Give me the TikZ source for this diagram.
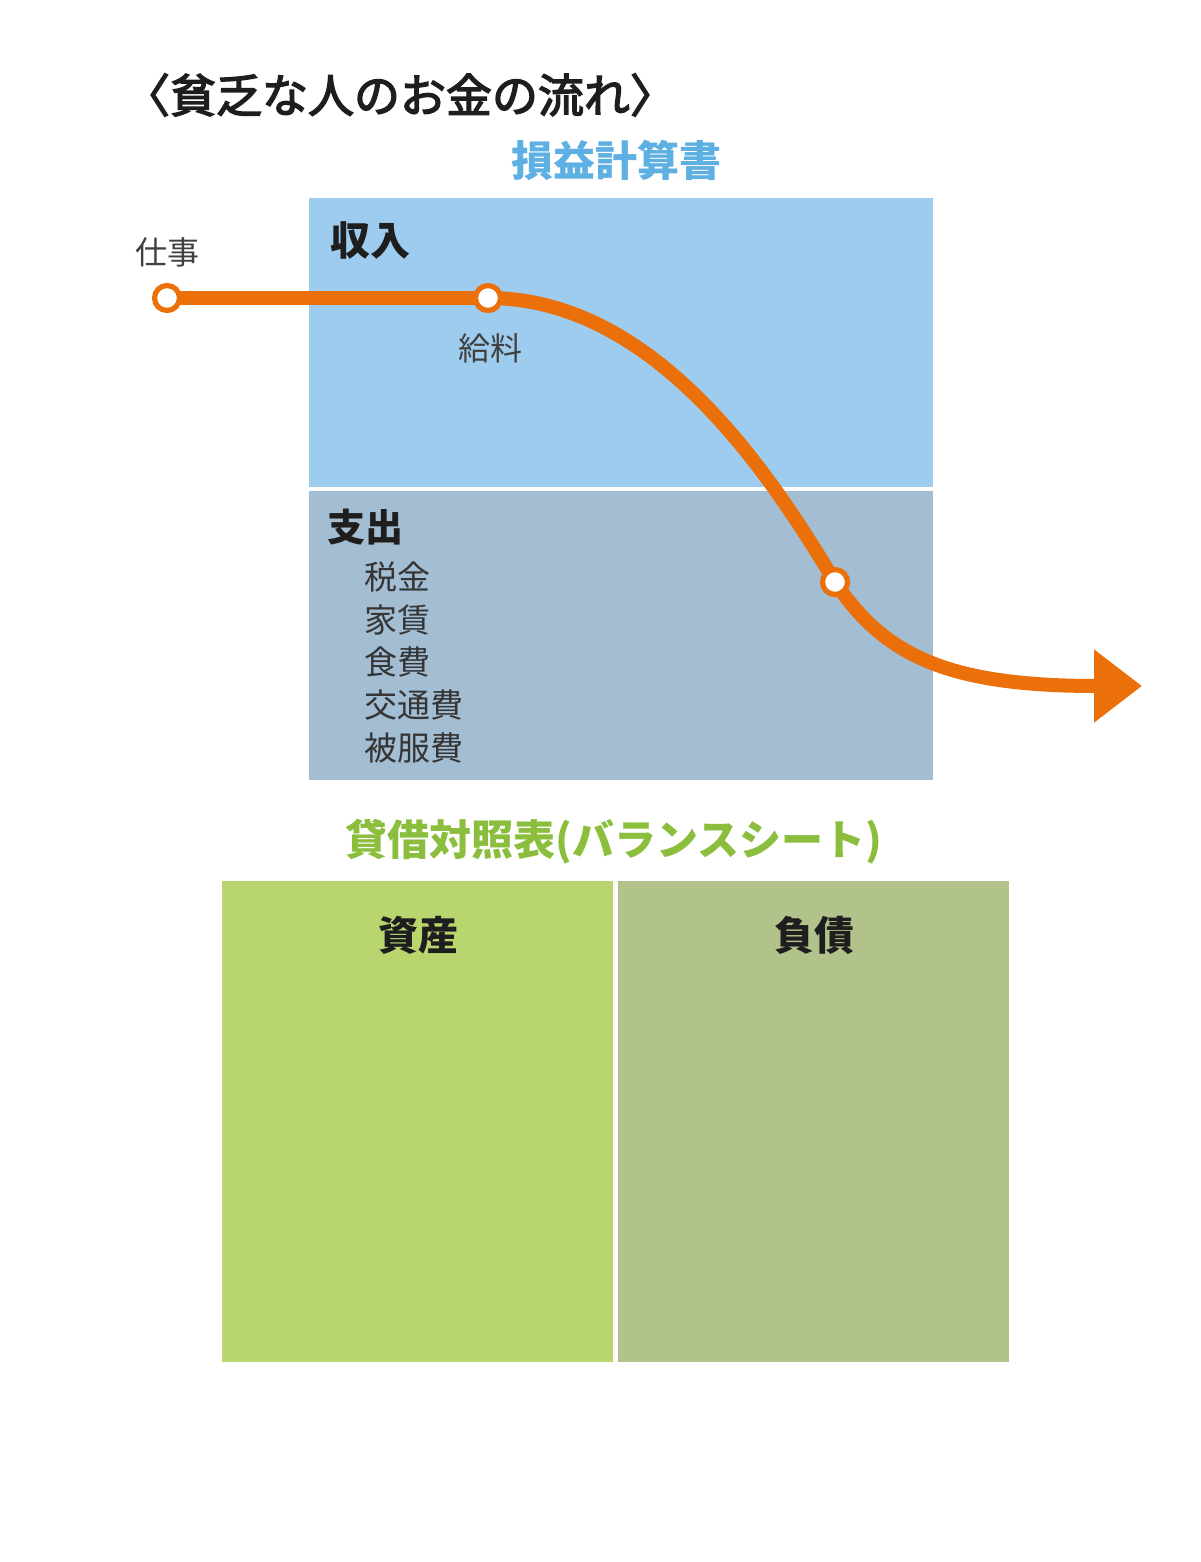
\documentclass[tikz,border=0pt]{standalone}
\usepackage{fontspec}
\setmainfont{Noto Sans CJK JP}
\newfontfamily\jpmed[FakeBold=3]{Noto Sans CJK JP}
\usetikzlibrary{arrows.meta}
\definecolor{orangeline}{RGB}{236,112,10}
\definecolor{incomebox}{RGB}{157,204,238}
\definecolor{expensebox}{RGB}{163,189,211}
\definecolor{assetbox}{RGB}{185,214,110}
\definecolor{liabbox}{RGB}{177,195,138}
\definecolor{pltitle}{RGB}{95,176,226}
\definecolor{bstitle}{RGB}{140,190,62}
\definecolor{ink}{RGB}{30,30,30}
\tikzset{
  boxfill/.style={draw=none, inner sep=0pt, anchor=north west},
  headlabel/.style={font=\fontsize{20pt}{24pt}\selectfont\bfseries, text=ink, inner sep=0pt},
  smalllabel/.style={font=\fontsize{16pt}{19pt}\selectfont, text=ink!85, inner sep=0pt},
  itemlabel/.style={font=\fontsize{16.5pt}{20pt}\selectfont, text=ink!90, inner sep=0pt, anchor=west},
  station/.style={circle, draw=orangeline, fill=white, line width=2.6pt, minimum size=12.5pt, inner sep=0pt},
  flow/.style={draw=orangeline, line width=7pt},
}
\begin{document}
\begin{tikzpicture}[x=0.5pt, y=-0.5pt]
\useasboundingbox[fill=white] (0,0) rectangle (1200,1562);

% boxes
\node[boxfill, fill=incomebox, minimum width=312pt, minimum height=144.5pt] (income) at (309,198) {};
\node[boxfill, fill=expensebox, minimum width=312pt, minimum height=144.5pt] (expense) at (309,491) {};
\node[boxfill, fill=assetbox, minimum width=195.5pt, minimum height=240.5pt] (asset) at (222,881) {};
\node[boxfill, fill=liabbox, minimum width=195.5pt, minimum height=240.5pt] (liab) at (618,881) {};

% titles
\node[font={\jpmed\fontsize{23pt}{28pt}\selectfont}, text=ink, inner sep=0pt] (title) at (400,95) {〈貧乏な人のお金の流れ〉};
\node[font=\fontsize{21pt}{25pt}\selectfont\bfseries, text=pltitle, inner sep=0pt] (pl) at (616,160) {損益計算書};
\node[font=\fontsize{21pt}{25pt}\selectfont\bfseries, text=bstitle, inner sep=0pt] (bs) at (614,842) {貸借対照表(バランスシート)};

% box labels
\node[headlabel] (inc) at (370,240) {収入};
\node[headlabel, font=\fontsize{19pt}{23pt}\selectfont\bfseries] (exp) at (365,527) {支出};
\node[headlabel] (ast) at (418,935) {資産};
\node[headlabel] (lia) at (814,935) {負債};

\node[itemlabel] (e1) at (364,577) {税金};
\node[itemlabel] (e2) at (364,620) {家賃};
\node[itemlabel] (e3) at (364,662) {食費};
\node[itemlabel] (e4) at (364,705) {交通費};
\node[itemlabel] (e5) at (364,748) {被服費};

% flow line
\coordinate (p1) at (167,298);
\coordinate (p2) at (488,298);
\coordinate (p3) at (835,582);
\coordinate (pend) at (1142,686);
\draw[flow] (p1) -- (p2);
\draw[flow, -{Triangle[length=24pt,width=35pt]}] (p2) .. controls (655,298) and (770,474) .. (p3) .. controls (885,657) and (950,686) .. (pend);

\node[station] (s1) at (p1) {};
\node[station] (s2) at (p2) {};
\node[station] (s3) at (p3) {};

\node[smalllabel] (work) at (167,252) {仕事};
\node[smalllabel] (salary) at (490,348) {給料};
\end{tikzpicture}
\end{document}
